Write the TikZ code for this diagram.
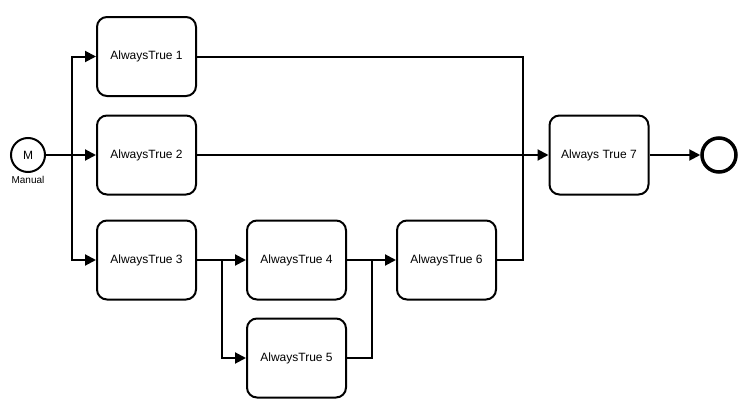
\documentclass[tikz,border=0pt]{standalone}
\usepackage{fontspec}
\setmainfont{Liberation Sans}
\usetikzlibrary{arrows.meta}
\begin{document}
\begin{tikzpicture}[x=1pt,y=-1pt,
  task/.style={draw,line width=2pt,rounded corners=10pt,minimum width=99pt,minimum height=79pt,inner sep=0pt,font=\fontsize{12}{14}\selectfont},
  flow/.style={line width=2pt,-{Triangle[length=11pt,width=11pt]}},
  plain/.style={line width=2pt},
  evt/.style={draw,circle,minimum size=34pt,inner sep=0pt}]
\useasboundingbox (0,0) rectangle (753,415);
\node[evt,line width=2pt,font=\fontsize{12}{14}\selectfont] (s) at (28,155) {M};
\node[font=\fontsize{10}{12}\selectfont,anchor=north] (sl) at (28,173) {Manual};
\node[task] (t1) at (146.5,56.5) {AlwaysTrue 1};
\node[task] (t2) at (146.5,155) {AlwaysTrue 2};
\node[task] (t3) at (146.5,260) {AlwaysTrue 3};
\node[task] (t4) at (296.5,260) {AlwaysTrue 4};
\node[task] (t5) at (296.5,358) {AlwaysTrue 5};
\node[task] (t6) at (446.5,260) {AlwaysTrue 6};
\node[task] (t7) at (599,155) {Always True 7};
\node[evt,line width=3.5pt] (e) at (719,155) {};
\coordinate (j1) at (72,155);
\coordinate (j2) at (222,260);
\coordinate (j3) at (372,260);
\coordinate (j4) at (523,155);
\draw[plain] (s) -- (j1);
\draw[flow] (j1) |- (t1.west);
\draw[flow] (j1) -- (t2.west);
\draw[flow] (j1) |- (t3.west);
\draw[plain] (t1.east) -| (j4);
\draw[plain] (t6.east) -| (j4);
\draw[flow] (t2.east) -- (t7.west);
\draw[plain] (t3.east) -- (j2);
\draw[flow] (j2) -- (t4.west);
\draw[flow] (j2) |- (t5.west);
\draw[plain] (t4.east) -- (j3);
\draw[plain] (t5.east) -| (j3);
\draw[flow] (j3) -- (t6.west);
\draw[flow] (t7.east) -- (e.west);
\end{tikzpicture}
\end{document}
